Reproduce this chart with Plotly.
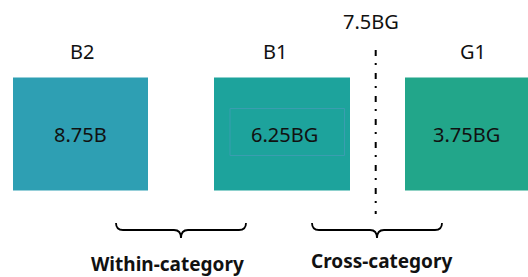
import plotly.graph_objects as go

# ---- data ----
categories = ["B2", "B1", "G1"]
box_values = ["8.75B", "6.25BG", "3.75BG"]
box_colors = ["#2E9FB3", "#1DA39C", "#22A68A"]
boundary_label = "7.5BG"
brace_labels = ["Within-category", "Cross-category"]

# ---- layout geometry (pixel-like data coordinates) ----
box_x0 = [13, 214, 405]
box_x1 = [148, 350, 528]
box_y0, box_y1 = 77.5, 190.5
cat_label_x = [82, 275, 473]
brace_x0 = [116, 312]
brace_x1 = [246, 442]
brace_label_x = [167, 381]
boundary_x = 375.7

FONT = "Noto Sans"
TXT = "#111111"

fig = go.Figure()
fig.add_trace(go.Scatter(x=[0, 528], y=[0, 277], mode="markers",
                         marker=dict(opacity=0), hoverinfo="skip", showlegend=False))

shapes = []
annotations = []
for i, cat in enumerate(categories):
    shapes.append(dict(type="rect", xref="x", yref="y",
                       x0=box_x0[i], x1=box_x1[i], y0=box_y0, y1=box_y1,
                       fillcolor=box_colors[i], line=dict(width=0), layer="below"))
    annotations.append(dict(x=cat_label_x[i], y=51, xref="x", yref="y", text=cat,
                            showarrow=False, font=dict(family=FONT, size=20, color=TXT),
                            xanchor="center", yanchor="middle"))
    annotations.append(dict(x=(box_x0[i] + box_x1[i]) / 2 + (2 if i == 1 else 0), y=134,
                            xref="x", yref="y", text=box_values[i],
                            showarrow=False, font=dict(family=FONT, size=20, color=TXT),
                            xanchor="center", yanchor="middle"))

# inner outline in middle box
shapes.append(dict(type="rect", xref="x", yref="y", x0=230, x1=344.5, y0=108.5, y1=155.5,
                   line=dict(color="#3A9DB0", width=1), fillcolor="rgba(0,0,0,0)"))

# boundary dash-dot line
shapes.append(dict(type="line", xref="x", yref="y", x0=boundary_x, x1=boundary_x,
                   y0=50, y1=214, line=dict(color="black", width=2, dash="6px,7px,2px,8px")))
annotations.append(dict(x=371, y=21, xref="x", yref="y", text=boundary_label, showarrow=False,
                        font=dict(family=FONT, size=20, color=TXT),
                        xanchor="center", yanchor="middle"))

# braces
for i, lab in enumerate(brace_labels):
    a, b = brace_x0[i], brace_x1[i]
    c = (a + b) / 2
    top, mid, tip = 223, 230, 238
    r = 7
    path = (f"M {a},{top} Q {a},{mid} {a+r},{mid} L {c-r},{mid} Q {c},{mid} {c},{tip} "
            f"Q {c},{mid} {c+r},{mid} L {b-r},{mid} Q {b},{mid} {b},{top}")
    shapes.append(dict(type="path", xref="x", yref="y", path=path,
                       line=dict(color="black", width=1.8)))
    annotations.append(dict(x=brace_label_x[i], y=264 if i == 0 else 261, xref="x", yref="y",
                            text=f"<b>{lab}</b>", showarrow=False,
                            font=dict(family=FONT, size=19, color=TXT),
                            xanchor="center", yanchor="middle"))

fig.update_layout(
    width=528, height=277,
    margin=dict(l=0, r=0, t=0, b=0),
    paper_bgcolor="white", plot_bgcolor="white",
    xaxis=dict(range=[0, 528], visible=False, fixedrange=True),
    yaxis=dict(range=[277, 0], visible=False, fixedrange=True),
    shapes=shapes, annotations=annotations, showlegend=False,
)

fig.write_html("out.html", config={"displayModeBar": False},
               post_script="document.body.style.margin='0';document.body.style.padding='0';")
